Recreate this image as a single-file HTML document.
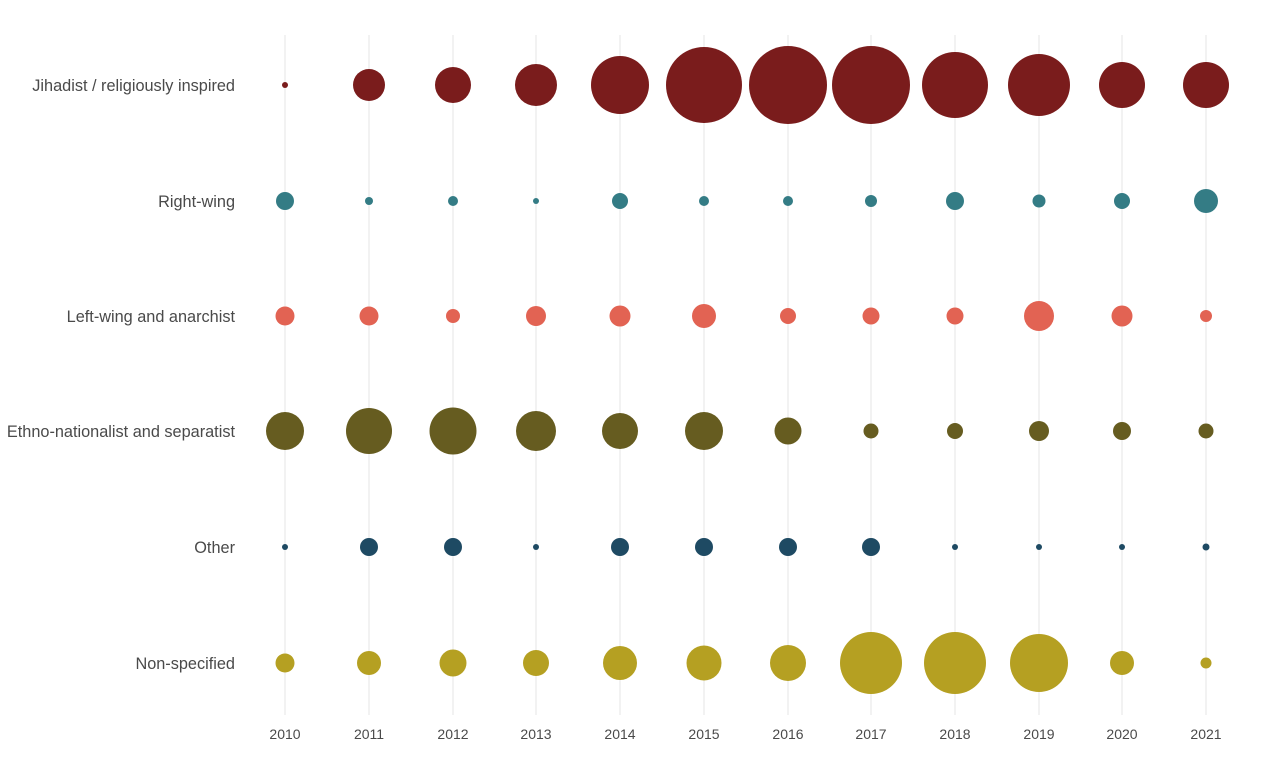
<!DOCTYPE html>
<html><head><meta charset="utf-8"><style>
html,body{margin:0;padding:0;background:#fff;}
svg{display:block;font-family:"Liberation Sans",sans-serif;}
</style></head><body>
<svg width="1280" height="757" viewBox="0 0 1280 757">
<g stroke="#e6e6e6" stroke-width="1">
<line x1="285" y1="35" x2="285" y2="715"/><line x1="369" y1="35" x2="369" y2="715"/><line x1="453" y1="35" x2="453" y2="715"/><line x1="536" y1="35" x2="536" y2="715"/><line x1="620" y1="35" x2="620" y2="715"/><line x1="704" y1="35" x2="704" y2="715"/><line x1="788" y1="35" x2="788" y2="715"/><line x1="871" y1="35" x2="871" y2="715"/><line x1="955" y1="35" x2="955" y2="715"/><line x1="1039" y1="35" x2="1039" y2="715"/><line x1="1122" y1="35" x2="1122" y2="715"/><line x1="1206" y1="35" x2="1206" y2="715"/>
</g>
<g font-size="16.3" fill="#4a4a4a" text-anchor="end">
<text x="235" y="91">Jihadist / religiously inspired</text>
<text x="235" y="207">Right-wing</text>
<text x="235" y="322">Left-wing and anarchist</text>
<text x="235" y="437">Ethno-nationalist and separatist</text>
<text x="235" y="553">Other</text>
<text x="235" y="669">Non-specified</text>
</g>
<g font-size="14" fill="#4a4a4a" text-anchor="middle">
<text x="285" y="739">2010</text><text x="369" y="739">2011</text><text x="453" y="739">2012</text><text x="536" y="739">2013</text><text x="620" y="739">2014</text><text x="704" y="739">2015</text><text x="788" y="739">2016</text><text x="871" y="739">2017</text><text x="955" y="739">2018</text><text x="1039" y="739">2019</text><text x="1122" y="739">2020</text><text x="1206" y="739">2021</text>
</g>
<g fill="#7a1c1c">
<circle cx="285" cy="85" r="3"/><circle cx="369" cy="85" r="16"/><circle cx="453" cy="85" r="18"/><circle cx="536" cy="85" r="21"/><circle cx="620" cy="85" r="29"/><circle cx="704" cy="85" r="38"/><circle cx="788" cy="85" r="39"/><circle cx="871" cy="85" r="39"/><circle cx="955" cy="85" r="33"/><circle cx="1039" cy="85" r="31"/><circle cx="1122" cy="85" r="23"/><circle cx="1206" cy="85" r="23"/>
</g>
<g fill="#347c85">
<circle cx="285" cy="201" r="9"/><circle cx="369" cy="201" r="4"/><circle cx="453" cy="201" r="5"/><circle cx="536" cy="201" r="3"/><circle cx="620" cy="201" r="8"/><circle cx="704" cy="201" r="5"/><circle cx="788" cy="201" r="5"/><circle cx="871" cy="201" r="6"/><circle cx="955" cy="201" r="9"/><circle cx="1039" cy="201" r="6.5"/><circle cx="1122" cy="201" r="8"/><circle cx="1206" cy="201" r="12"/>
</g>
<g fill="#e26353">
<circle cx="285" cy="316" r="9.5"/><circle cx="369" cy="316" r="9.5"/><circle cx="453" cy="316" r="7"/><circle cx="536" cy="316" r="10"/><circle cx="620" cy="316" r="10.5"/><circle cx="704" cy="316" r="12"/><circle cx="788" cy="316" r="8"/><circle cx="871" cy="316" r="8.5"/><circle cx="955" cy="316" r="8.5"/><circle cx="1039" cy="316" r="15"/><circle cx="1122" cy="316" r="10.5"/><circle cx="1206" cy="316" r="6"/>
</g>
<g fill="#665c20">
<circle cx="285" cy="431" r="19"/><circle cx="369" cy="431" r="23"/><circle cx="453" cy="431" r="23.5"/><circle cx="536" cy="431" r="20"/><circle cx="620" cy="431" r="18"/><circle cx="704" cy="431" r="19"/><circle cx="788" cy="431" r="13.5"/><circle cx="871" cy="431" r="7.5"/><circle cx="955" cy="431" r="8"/><circle cx="1039" cy="431" r="10"/><circle cx="1122" cy="431" r="9"/><circle cx="1206" cy="431" r="7.5"/>
</g>
<g fill="#1e4a63">
<circle cx="285" cy="547" r="3"/><circle cx="369" cy="547" r="9"/><circle cx="453" cy="547" r="9"/><circle cx="536" cy="547" r="3"/><circle cx="620" cy="547" r="9"/><circle cx="704" cy="547" r="9"/><circle cx="788" cy="547" r="9"/><circle cx="871" cy="547" r="9"/><circle cx="955" cy="547" r="3"/><circle cx="1039" cy="547" r="3"/><circle cx="1122" cy="547" r="3"/><circle cx="1206" cy="547" r="3.5"/>
</g>
<g fill="#b5a022">
<circle cx="285" cy="663" r="9.5"/><circle cx="369" cy="663" r="12"/><circle cx="453" cy="663" r="13.5"/><circle cx="536" cy="663" r="13"/><circle cx="620" cy="663" r="17"/><circle cx="704" cy="663" r="17.5"/><circle cx="788" cy="663" r="18"/><circle cx="871" cy="663" r="31"/><circle cx="955" cy="663" r="31"/><circle cx="1039" cy="663" r="29"/><circle cx="1122" cy="663" r="12"/><circle cx="1206" cy="663" r="5.5"/>
</g>
</svg>
</body></html>
